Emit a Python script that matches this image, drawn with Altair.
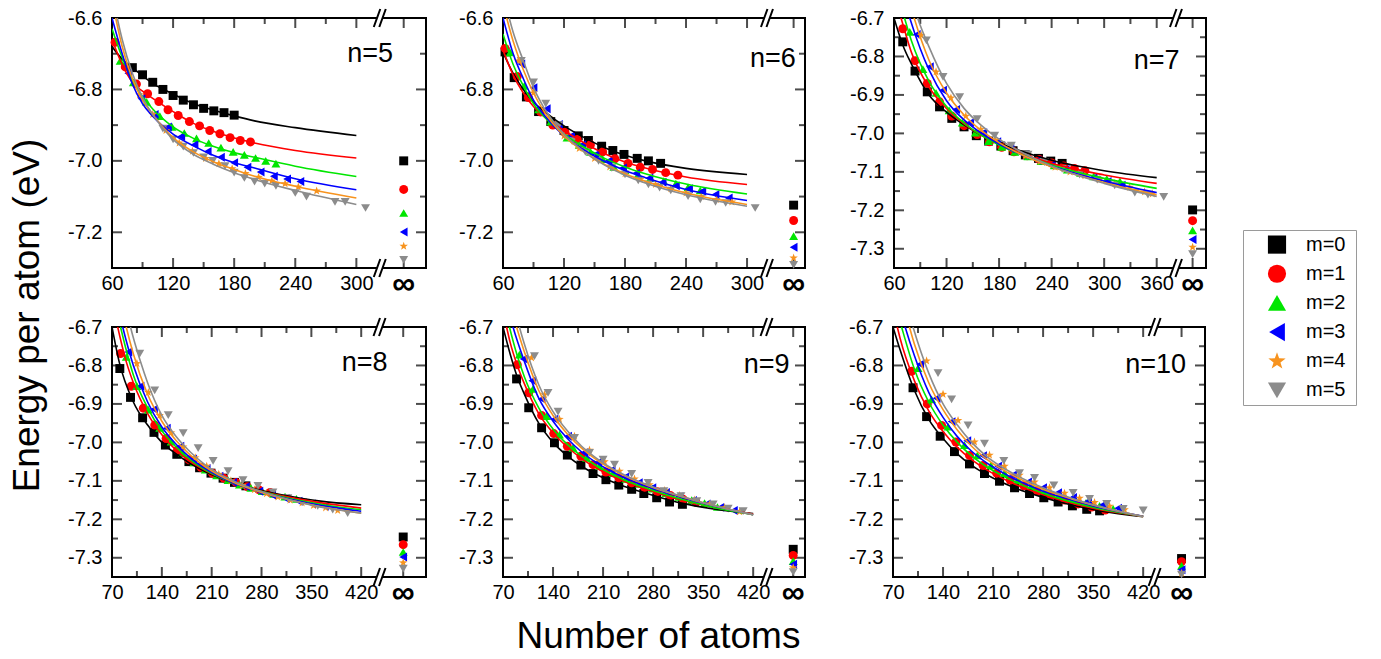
import altair as alt
import pandas as pd

FONT = "Liberation Sans"
M_LABELS = ["m=0", "m=1", "m=2", "m=3", "m=4", "m=5"]
COLORS = ["#000000", "#ff0000", "#00e600", "#0000ff", "#f7931e", "#8c8c8c"]
STAR = ("M0,-1L0.235,-0.324L0.951,-0.309L0.38,0.124L0.588,0.809L0,0.4"
        "L-0.588,0.809L-0.38,0.124L-0.951,-0.309L-0.235,-0.324Z")
SHAPES = ["square", "circle", "triangle-up", "triangle-left", STAR, "triangle-down"]
GAP_PATH = "M-0.28,-0.25L0.28,-0.25L0.28,0.25L-0.28,0.25Z"
SLASH_PATH = "M-0.6,0.9L0.05,-0.9M-0.05,0.9L0.6,-0.9"

# ---------------- n = 5 ----------------
N5_CURVE_X = [60, 70, 80, 90, 100, 120, 140, 160, 180, 200, 240, 300]
N5_CURVES = [
    (N5_CURVE_X, [-6.68, -6.715, -6.739, -6.762, -6.783, -6.813, -6.840, -6.858, -6.874, -6.888, -6.907, -6.929]),
    (N5_CURVE_X, [-6.66, -6.73, -6.78, -6.805, -6.825, -6.862, -6.895, -6.918, -6.936, -6.95, -6.971, -6.992]),
    (N5_CURVE_X, [-6.63, -6.71, -6.775, -6.82, -6.855, -6.905, -6.937, -6.96, -6.977, -6.99, -7.015, -7.044]),
    (N5_CURVE_X, [-6.60, -6.70, -6.785, -6.84, -6.875, -6.925, -6.958, -6.985, -7.005, -7.02, -7.05, -7.081]),
    (N5_CURVE_X, [-6.55, -6.68, -6.77, -6.83, -6.87, -6.935, -6.975, -7.003, -7.024, -7.043, -7.071, -7.104]),
    (N5_CURVE_X, [-6.53, -6.66, -6.755, -6.823, -6.87, -6.94, -6.982, -7.01, -7.033, -7.052, -7.083, -7.122]),
]
N5_MARKS = [
    ([80, 90, 100, 110, 120, 130, 140, 150, 160, 170, 180],
     [-6.739, -6.759, -6.780, -6.800, -6.817, -6.830, -6.843, -6.853, -6.860, -6.865, -6.872]),
    ([63, 73, 84, 95, 106, 115, 125, 136, 146, 156, 166, 176, 186, 196],
     [-6.668, -6.737, -6.785, -6.812, -6.834, -6.857, -6.873, -6.890, -6.902, -6.915, -6.924, -6.935, -6.943, -6.947]),
    ([68, 81, 94, 107, 119, 131, 143, 155, 167, 179, 190, 201, 211, 221],
     [-6.72, -6.78, -6.835, -6.875, -6.905, -6.922, -6.937, -6.95, -6.963, -6.975, -6.983, -6.992, -7.0, -7.008]),
    ([76, 89, 102, 115, 128, 141, 154, 167, 180, 193, 206, 219, 232, 245],
     [-6.755, -6.826, -6.870, -6.905, -6.932, -6.955, -6.974, -6.99, -7.005, -7.018, -7.031, -7.043, -7.051, -7.058]),
    ([87, 100, 113, 126, 139, 152, 165, 178, 191, 204, 217, 230, 243, 261],
     [-6.815, -6.87, -6.915, -6.95, -6.973, -6.993, -7.008, -7.022, -7.035, -7.046, -7.056, -7.064, -7.073, -7.084]),
    ([110, 120, 130, 140, 150, 159, 171, 180, 190, 200, 210, 221, 240, 251, 279, 289, 309],
     [-6.91, -6.94, -6.96, -6.978, -6.99, -7.0, -7.015, -7.033, -7.048, -7.058, -7.064, -7.07, -7.09, -7.1, -7.115, -7.115, -7.132]),
]
N5_INF = [-7.000, -7.080, -7.146, -7.199, -7.239, -7.277]

# ---------------- n = 6 ----------------
N6_CURVE_X = [60, 70, 80, 90, 100, 120, 140, 160, 180, 200, 240, 300]
N6_CURVES = [
    (N6_CURVE_X, [-6.696, -6.755, -6.8, -6.835, -6.86, -6.902, -6.935, -6.963, -6.984, -7.0, -7.021, -7.038]),
    (N6_CURVE_X, [-6.69, -6.76, -6.81, -6.848, -6.875, -6.915, -6.95, -6.98, -7.003, -7.02, -7.045, -7.066]),
    (N6_CURVE_X, [-6.645, -6.73, -6.79, -6.84, -6.875, -6.925, -6.962, -6.993, -7.017, -7.036, -7.065, -7.093]),
    (N6_CURVE_X, [-6.60, -6.70, -6.77, -6.83, -6.87, -6.93, -6.97, -7.002, -7.027, -7.047, -7.08, -7.111]),
    (N6_CURVE_X, [-6.56, -6.665, -6.745, -6.81, -6.86, -6.93, -6.975, -7.01, -7.036, -7.057, -7.09, -7.122]),
    (N6_CURVE_X, [-6.53, -6.64, -6.72, -6.795, -6.85, -6.925, -6.975, -7.012, -7.04, -7.062, -7.095, -7.127]),
]
N6_MARKS = [
    ([62, 71, 83, 95, 107, 120, 134, 144, 157, 168, 179, 192, 203, 215],
     [-6.695, -6.767, -6.821, -6.862, -6.89, -6.915, -6.93, -6.943, -6.959, -6.971, -6.982, -6.993, -7.0, -7.007]),
    ([62, 74, 85, 97, 109, 121, 133, 146, 158, 170, 183, 195, 207, 220, 232],
     [-6.685, -6.764, -6.823, -6.863, -6.9, -6.92, -6.94, -6.955, -6.975, -6.994, -7.007, -7.018, -7.024, -7.033, -7.04]),
    ([67, 81, 95, 107, 123, 135, 146, 158, 169, 180, 193, 205, 218, 230, 242, 254],
     [-6.696, -6.79, -6.856, -6.89, -6.935, -6.955, -6.975, -6.995, -7.017, -7.027, -7.038, -7.048, -7.057, -7.064, -7.074, -7.083]),
    ([78, 90, 103, 115, 127, 138, 151, 164, 178, 191, 204, 217, 230, 243, 256, 269, 282],
     [-6.729, -6.795, -6.854, -6.898, -6.93, -6.955, -6.982, -7.0, -7.02, -7.035, -7.048, -7.06, -7.07, -7.078, -7.085, -7.094, -7.104]),
    ([75, 90, 105, 120, 135, 150, 165, 180, 195, 210, 225, 240, 255, 270, 285],
     [-6.72, -6.81, -6.88, -6.93, -6.965, -6.993, -7.017, -7.036, -7.052, -7.066, -7.078, -7.09, -7.1, -7.108, -7.115]),
    ([78, 90, 102, 115, 128, 141, 154, 167, 180, 193, 203, 214, 225, 242, 254, 269, 279, 308],
     [-6.72, -6.78, -6.84, -6.9, -6.945, -6.975, -7.0, -7.02, -7.038, -7.055, -7.066, -7.075, -7.083, -7.099, -7.108, -7.115, -7.118, -7.132]),
]
N6_INF = [-7.124, -7.167, -7.211, -7.242, -7.272, -7.291]

# ---------------- n = 7 ----------------
N7_CURVES = [
    ([60, 70, 80, 100, 120, 140, 160, 180, 200, 240, 300, 360],
     [-6.70, -6.77, -6.82, -6.9, -6.945, -6.978, -7.005, -7.025, -7.042, -7.07, -7.097, -7.115]),
    ([60, 68, 80, 100, 120, 140, 160, 180, 200, 240, 300, 360],
     [-6.64, -6.70, -6.79, -6.88, -6.935, -6.975, -7.005, -7.028, -7.047, -7.078, -7.108, -7.13]),
    ([60, 72, 80, 100, 120, 140, 160, 180, 200, 240, 300, 360],
     [-6.60, -6.70, -6.76, -6.865, -6.93, -6.973, -7.005, -7.03, -7.05, -7.082, -7.117, -7.143]),
    ([60, 78, 90, 100, 120, 140, 160, 180, 200, 240, 300, 360],
     [-6.55, -6.70, -6.78, -6.835, -6.915, -6.965, -7.0, -7.028, -7.05, -7.085, -7.124, -7.154]),
    ([60, 83, 100, 120, 140, 160, 180, 200, 240, 300, 360],
     [-6.50, -6.70, -6.81, -6.895, -6.952, -6.993, -7.024, -7.049, -7.087, -7.128, -7.16]),
    ([60, 87, 100, 120, 140, 160, 180, 200, 240, 300, 360],
     [-6.45, -6.70, -6.775, -6.87, -6.935, -6.98, -7.015, -7.042, -7.085, -7.13, -7.164]),
]
N7_MARKS = [
    ([70, 84, 98, 112, 126, 140, 154, 168, 182, 196, 210, 225, 239, 252],
     [-6.762, -6.838, -6.892, -6.931, -6.961, -6.983, -7.006, -7.02, -7.033, -7.045, -7.056, -7.065, -7.072, -7.078]),
    ([70, 84, 98, 112, 126, 140, 155, 169, 183, 197, 212, 226, 240, 254, 266, 278],
     [-6.728, -6.811, -6.870, -6.918, -6.955, -6.98, -7.003, -7.022, -7.036, -7.048, -7.058, -7.068, -7.077, -7.085, -7.091, -7.097]),
    ([78, 93, 108, 123, 138, 153, 168, 183, 198, 213, 228, 243, 258, 273, 288, 303, 318],
     [-6.736, -6.833, -6.895, -6.94, -6.972, -6.998, -7.02, -7.035, -7.048, -7.06, -7.072, -7.083, -7.094, -7.103, -7.112, -7.118, -7.125]),
    ([86, 101, 116, 131, 147, 162, 178, 193, 209, 224, 240, 256, 272, 288, 304, 320],
     [-6.743, -6.827, -6.888, -6.938, -6.972, -6.998, -7.022, -7.04, -7.056, -7.07, -7.082, -7.094, -7.105, -7.115, -7.125, -7.135]),
    ([91, 108, 125, 142, 159, 176, 193, 210, 227, 244, 261, 278, 295, 312, 329, 346, 355],
     [-6.745, -6.84, -6.908, -6.955, -6.99, -7.018, -7.04, -7.058, -7.073, -7.088, -7.1, -7.11, -7.12, -7.13, -7.14, -7.152, -7.157]),
    ([97, 116, 135, 155, 175, 194, 213, 232, 252, 272, 292, 312, 335, 350, 368],
     [-6.758, -6.853, -6.906, -6.963, -7.006, -7.032, -7.055, -7.075, -7.092, -7.107, -7.12, -7.135, -7.154, -7.159, -7.165]),
]
N7_INF = [-7.199, -7.227, -7.252, -7.276, -7.296, -7.314]

# ---------------- n = 8 ----------------
N8_CURVES = [
    ([70, 80, 100, 120, 140, 160, 180, 200, 240, 280, 320, 360, 420],
     [-6.70, -6.79, -6.895, -6.955, -7.0, -7.03, -7.055, -7.075, -7.105, -7.125, -7.14, -7.152, -7.162]),
    ([70, 78, 90, 100, 120, 140, 160, 180, 200, 240, 280, 320, 360, 420],
     [-6.63, -6.70, -6.79, -6.845, -6.925, -6.98, -7.02, -7.05, -7.072, -7.105, -7.127, -7.143, -7.156, -7.171]),
    ([70, 82, 90, 100, 120, 140, 160, 180, 200, 240, 280, 320, 360, 420],
     [-6.60, -6.70, -6.76, -6.825, -6.91, -6.97, -7.012, -7.045, -7.07, -7.105, -7.128, -7.146, -7.16, -7.175]),
    ([70, 85, 100, 120, 140, 160, 180, 200, 240, 280, 320, 360, 420],
     [-6.58, -6.70, -6.8, -6.895, -6.96, -7.005, -7.04, -7.067, -7.105, -7.13, -7.148, -7.163, -7.179]),
    ([70, 90, 100, 120, 140, 160, 180, 200, 240, 280, 320, 360, 420],
     [-6.52, -6.70, -6.77, -6.875, -6.945, -6.995, -7.033, -7.062, -7.103, -7.13, -7.15, -7.166, -7.184]),
    ([70, 96, 110, 120, 140, 160, 180, 200, 240, 280, 320, 360, 420],
     [-6.45, -6.70, -6.79, -6.845, -6.93, -6.985, -7.025, -7.057, -7.1, -7.128, -7.15, -7.167, -7.184]),
]
N8_MARKS = [
    ([81, 96, 113, 129, 145, 161, 178, 193, 209, 226, 242, 258],
     [-6.808, -6.883, -6.936, -6.974, -7.007, -7.031, -7.05, -7.066, -7.08, -7.093, -7.104, -7.113]),
    ([82, 97, 114, 130, 146, 162, 178, 195, 211, 227, 244, 260, 276, 292],
     [-6.769, -6.854, -6.911, -6.955, -6.99, -7.02, -7.045, -7.065, -7.08, -7.093, -7.104, -7.115, -7.123, -7.13]),
    ([90, 105, 121, 137, 153, 169, 185, 201, 217, 233, 249, 265, 281, 297, 313, 329],
     [-6.778, -6.854, -6.915, -6.962, -6.998, -7.028, -7.052, -7.071, -7.086, -7.098, -7.11, -7.118, -7.127, -7.134, -7.141, -7.147]),
    ([93, 110, 129, 147, 166, 184, 203, 221, 240, 258, 277, 295, 314, 332, 351, 369],
     [-6.765, -6.854, -6.914, -6.963, -7.01, -7.043, -7.068, -7.088, -7.104, -7.115, -7.127, -7.137, -7.146, -7.153, -7.16, -7.166]),
    ([105, 121, 137, 153, 170, 187, 203, 220, 237, 253, 270, 287, 303, 320, 337, 353, 370, 387],
     [-6.795, -6.87, -6.93, -6.975, -7.012, -7.04, -7.062, -7.083, -7.1, -7.112, -7.123, -7.133, -7.142, -7.15, -7.157, -7.164, -7.17, -7.177]),
    ([109, 130, 149, 170, 191, 212, 233, 254, 275, 296, 317, 338, 359, 380, 401],
     [-6.769, -6.865, -6.929, -6.976, -7.015, -7.048, -7.075, -7.098, -7.113, -7.13, -7.145, -7.155, -7.165, -7.175, -7.184]),
]
N8_INF = [-7.246, -7.266, -7.285, -7.298, -7.313, -7.328]

# ---------------- n = 9 ----------------
N9_CURVES = [
    ([70, 80, 90, 100, 120, 140, 160, 180, 200, 240, 280, 320, 360, 420],
     [-6.70, -6.77, -6.83, -6.875, -6.95, -7.0, -7.035, -7.062, -7.083, -7.115, -7.138, -7.158, -7.172, -7.185]),
    ([70, 75, 80, 90, 100, 120, 140, 160, 180, 200, 240, 280, 320, 360, 420],
     [-6.66, -6.70, -6.74, -6.8, -6.848, -6.925, -6.975, -7.012, -7.042, -7.066, -7.102, -7.128, -7.15, -7.167, -7.186]),
    ([70, 79, 90, 100, 120, 140, 160, 180, 200, 240, 280, 320, 360, 420],
     [-6.63, -6.70, -6.775, -6.83, -6.91, -6.965, -7.005, -7.036, -7.06, -7.098, -7.125, -7.148, -7.167, -7.188]),
    ([70, 84, 100, 120, 140, 160, 180, 200, 240, 280, 320, 360, 420],
     [-6.60, -6.70, -6.79, -6.885, -6.945, -6.99, -7.025, -7.052, -7.092, -7.12, -7.143, -7.163, -7.188]),
    ([70, 89, 100, 120, 140, 160, 180, 200, 240, 280, 320, 360, 420],
     [-6.55, -6.70, -6.765, -6.865, -6.93, -6.978, -7.015, -7.044, -7.087, -7.117, -7.141, -7.162, -7.188]),
    ([70, 93, 100, 120, 140, 160, 180, 200, 240, 280, 320, 360, 420],
     [-6.50, -6.70, -6.745, -6.85, -6.92, -6.97, -7.01, -7.04, -7.085, -7.116, -7.14, -7.162, -7.188]),
]
N9_MARKS = [
    ([89, 106, 124, 142, 160, 179, 196, 214, 232, 250, 267, 285, 303, 321],
     [-6.835, -6.91, -6.962, -7.001, -7.033, -7.059, -7.081, -7.097, -7.111, -7.122, -7.133, -7.144, -7.155, -7.161]),
    ([90, 106, 124, 141, 160, 179, 196, 214, 232, 250, 268, 286, 304, 322, 340],
     [-6.798, -6.871, -6.93, -6.977, -7.01, -7.036, -7.058, -7.077, -7.092, -7.105, -7.117, -7.128, -7.138, -7.148, -7.156]),
    ([93, 112, 131, 149, 168, 187, 205, 224, 242, 261, 279, 298, 316, 334, 352, 370],
     [-6.772, -6.861, -6.932, -6.98, -7.014, -7.04, -7.062, -7.08, -7.095, -7.108, -7.12, -7.132, -7.142, -7.15, -7.158, -7.168]),
    ([99, 111, 124, 142, 161, 184, 203, 222, 241, 260, 279, 298, 317, 336, 355, 374, 393],
     [-6.783, -6.84, -6.887, -6.94, -6.984, -7.026, -7.052, -7.072, -7.09, -7.105, -7.118, -7.13, -7.141, -7.151, -7.16, -7.169, -7.177]),
    ([110, 128, 149, 170, 191, 212, 233, 254, 275, 296, 317, 338, 359, 380, 401],
     [-6.78, -6.876, -6.94, -6.984, -7.02, -7.05, -7.075, -7.095, -7.11, -7.125, -7.138, -7.15, -7.16, -7.17, -7.18]),
    ([114, 133, 147, 170, 191, 210, 226, 250, 273, 295, 319, 341, 364, 385, 406],
     [-6.776, -6.871, -6.92, -6.988, -7.027, -7.045, -7.058, -7.082, -7.105, -7.127, -7.14, -7.153, -7.161, -7.172, -7.179]),
]
N9_INF = [-7.278, -7.294, -7.309, -7.317, -7.326, -7.337]

# ---------------- n = 10 ----------------
N10_CURVES = [
    ([70, 80, 100, 120, 140, 160, 180, 200, 240, 280, 320, 360, 420],
     [-6.70, -6.76, -6.865, -6.94, -6.99, -7.03, -7.06, -7.083, -7.118, -7.143, -7.163, -7.178, -7.193]),
    ([70, 76, 80, 100, 120, 140, 160, 180, 200, 240, 280, 320, 360, 420],
     [-6.66, -6.70, -6.73, -6.84, -6.918, -6.972, -7.013, -7.045, -7.07, -7.108, -7.136, -7.158, -7.175, -7.192]),
    ([70, 82, 100, 120, 140, 160, 180, 200, 240, 280, 320, 360, 420],
     [-6.62, -6.70, -6.81, -6.895, -6.955, -7.0, -7.035, -7.062, -7.102, -7.132, -7.155, -7.173, -7.192]),
    ([70, 87, 100, 120, 140, 160, 180, 200, 240, 280, 320, 360, 420],
     [-6.58, -6.70, -6.775, -6.87, -6.935, -6.985, -7.023, -7.052, -7.095, -7.127, -7.15, -7.17, -7.192]),
    ([70, 93, 100, 120, 140, 160, 180, 200, 240, 280, 320, 360, 420],
     [-6.54, -6.70, -6.745, -6.845, -6.915, -6.968, -7.01, -7.042, -7.088, -7.122, -7.147, -7.168, -7.193]),
    ([70, 98, 120, 140, 160, 180, 200, 240, 280, 320, 360, 420],
     [-6.50, -6.70, -6.82, -6.9, -6.955, -7.0, -7.035, -7.083, -7.118, -7.145, -7.167, -7.193]),
]
N10_MARKS = [
    ([98, 117, 136, 156, 177, 198, 219, 240, 261, 281, 301, 321, 341, 359],
     [-6.858, -6.933, -6.984, -7.024, -7.056, -7.081, -7.101, -7.118, -7.133, -7.144, -7.155, -7.165, -7.174, -7.178]),
    ([96, 118, 138, 158, 177, 196, 215, 234, 253, 272, 291, 310, 329, 348, 367],
     [-6.815, -6.9, -6.956, -6.999, -7.034, -7.06, -7.08, -7.098, -7.113, -7.126, -7.138, -7.15, -7.16, -7.168, -7.176]),
    ([105, 124, 147, 170, 188, 207, 226, 245, 264, 283, 302, 321, 340, 359, 378],
     [-6.807, -6.888, -6.959, -7.007, -7.034, -7.06, -7.08, -7.097, -7.111, -7.124, -7.136, -7.147, -7.157, -7.165, -7.173]),
    ([108, 131, 152, 174, 196, 217, 238, 259, 280, 301, 322, 343, 364, 385],
     [-6.797, -6.885, -6.946, -6.996, -7.035, -7.062, -7.085, -7.103, -7.118, -7.131, -7.143, -7.153, -7.162, -7.171]),
    ([117, 140, 161, 184, 205, 226, 247, 268, 289, 310, 331, 352, 373, 394],
     [-6.788, -6.875, -6.943, -6.999, -7.033, -7.062, -7.085, -7.103, -7.118, -7.132, -7.145, -7.156, -7.166, -7.175]),
    ([133, 152, 175, 198, 225, 247, 268, 295, 322, 345, 369, 392, 420],
     [-6.82, -6.888, -6.956, -7.003, -7.048, -7.08, -7.092, -7.112, -7.131, -7.147, -7.16, -7.173, -7.177]),
]
N10_INF = [-7.302, -7.31, -7.321, -7.331, -7.34, -7.344]

# axis ticks / labels
TOP_X_LABELS = [60, 120, 180, 240, 300]
TOP_X_MINOR = [90, 150, 210, 270]
N7_X_LABELS = [60, 120, 180, 240, 300, 360]
N7_X_MINOR = [90, 150, 210, 270, 330]
BOT_X_LABELS = [70, 140, 210, 280, 350, 420]
BOT_X_MINOR = [105, 175, 245, 315, 385]
Y1_LABELS = [-6.6, -6.8, -7.0, -7.2]
Y1_MINOR = [-6.7, -6.9, -7.1]
Y2_LABELS = [-6.7, -6.8, -6.9, -7.0, -7.1, -7.2, -7.3]
Y2_MINOR = [-6.75, -6.85, -6.95, -7.05, -7.15, -7.25]

PANELS = [
    dict(n=5, xdom=[60, 368.4], ydom=[-7.3, -6.6], xlab=TOP_X_LABELS, xmin=TOP_X_MINOR, ylab=Y1_LABELS, ymin=Y1_MINOR,
         inf=346.5, brk=323, w=314, minext=45, lx=336, ly=-6.70, curves=N5_CURVES, marks=N5_MARKS, infs=N5_INF),
    dict(n=6, xdom=[60, 357], ydom=[-7.3, -6.6], xlab=TOP_X_LABELS, xmin=TOP_X_MINOR, ylab=Y1_LABELS, ymin=Y1_MINOR,
         inf=345.8, brk=319.6, w=302, minext=45, lx=348, ly=-6.716, curves=N6_CURVES, marks=N6_MARKS, infs=N6_INF),
    dict(n=7, xdom=[60, 416.3], ydom=[-7.35, -6.7], xlab=N7_X_LABELS, xmin=N7_X_MINOR, ylab=Y2_LABELS, ymin=Y2_MINOR,
         inf=401, brk=382, w=312, minext=56, lx=386, ly=-6.813, curves=N7_CURVES, marks=N7_MARKS, infs=N7_INF),
    dict(n=8, xdom=[70, 511], ydom=[-7.35, -6.7], xlab=BOT_X_LABELS, xmin=BOT_X_MINOR, ylab=Y2_LABELS, ymin=Y2_MINOR,
         inf=479, brk=445.7, w=314, minext=45, lx=457, ly=-6.794, curves=N8_CURVES, marks=N8_MARKS, infs=N8_INF),
    dict(n=9, xdom=[70, 492.5], ydom=[-7.35, -6.7], xlab=BOT_X_LABELS, xmin=BOT_X_MINOR, ylab=Y2_LABELS, ymin=Y2_MINOR,
         inf=476, brk=438.7, w=302, minext=45, lx=471, ly=-6.799, curves=N9_CURVES, marks=N9_MARKS, infs=N9_INF),
    dict(n=10, xdom=[70, 506.5], ydom=[-7.35, -6.7], xlab=BOT_X_LABELS, xmin=BOT_X_MINOR, ylab=Y2_LABELS, ymin=Y2_MINOR,
         inf=473.7, brk=436, w=312, minext=56, lx=480, ly=-6.80, curves=N10_CURVES, marks=N10_MARKS, infs=N10_INF),
]

COLOR_SCALE = alt.Scale(domain=M_LABELS, range=COLORS)
SHAPE_SCALE = alt.Scale(domain=M_LABELS, range=SHAPES)


def build_panel(c):
    xs = alt.Scale(domain=c["xdom"], nice=False, zero=False)
    ys = alt.Scale(domain=c["ydom"], nice=False, zero=False)
    xaxis = alt.Axis(values=c["xlab"], format="d", grid=False, ticks=False, domain=False, labelPadding=5,
                     labelFontSize=20, labelFont=FONT, labelColor="black", title=None,
                     labelFlush=False, labelOverlap=False)
    yaxis = alt.Axis(values=c["ylab"], format=".1f", labelExpr="replace(datum.label, '\u2212', '-')",
                     grid=False, ticks=False, domain=False, labelPadding=10, labelFontSize=20,
                     labelFont=FONT, labelColor="black", title=None, minExtent=c["minext"],
                     labelFlush=False, labelOverlap=False)

    def X():
        return alt.X("x:Q", scale=xs, axis=xaxis)

    def Y():
        return alt.Y("y:Q", scale=ys, axis=yaxis)

    crows = [{"x": x, "y": y, "m": M_LABELS[i]}
             for i, (xx, yy) in enumerate(c["curves"]) for x, y in zip(xx, yy)]
    mrows = [{"x": x, "y": y, "m": M_LABELS[i]}
             for i, (xx, yy) in enumerate(c["marks"]) for x, y in zip(xx, yy)]
    mrows += [{"x": c["inf"], "y": v, "m": M_LABELS[i]} for i, v in enumerate(c["infs"])]

    tv = []
    for v in c["xlab"] + [c["inf"]]:
        for yy in c["ydom"]:
            tv.append({"x": v, "y": yy, "len": 20})
    for v in c["xmin"]:
        for yy in c["ydom"]:
            tv.append({"x": v, "y": yy, "len": 12})
    th = []
    for v in c["ylab"]:
        for xx in c["xdom"]:
            th.append({"x": xx, "y": v, "len": 20})
    for v in c["ymin"]:
        for xx in c["xdom"]:
            th.append({"x": xx, "y": v, "len": 12})

    ticks_v = alt.Chart(pd.DataFrame(tv)).mark_tick(orient="vertical", clip=True, thickness=2, color="black").encode(
        x=X(), y=Y(), size=alt.Size("len:Q", scale=None))
    ticks_h = alt.Chart(pd.DataFrame(th)).mark_tick(orient="horizontal", clip=True, thickness=2, color="black").encode(
        x=X(), y=Y(), size=alt.Size("len:Q", scale=None))

    pts = alt.Chart(pd.DataFrame(mrows)).mark_point(filled=True, size=80, opacity=1, strokeWidth=0).encode(
        x=X(), y=Y(),
        color=alt.Color("m:N", scale=COLOR_SCALE, legend=None),
        shape=alt.Shape("m:N", scale=SHAPE_SCALE, legend=None))

    lines = alt.Chart(pd.DataFrame(crows)).mark_line(clip=True, strokeWidth=1.6, interpolate="monotone").encode(
        x=X(), y=Y(),
        stroke=alt.Stroke("m:N", scale=COLOR_SCALE, legend=None),
        detail="m:N")

    bdf = pd.DataFrame({"x": [c["brk"], c["brk"]], "y": c["ydom"]})
    gap = alt.Chart(bdf).mark_point(shape=GAP_PATH, filled=True, color="white", size=400, opacity=1,
                                    strokeWidth=0).encode(x=X(), y=Y())
    slash = alt.Chart(bdf).mark_point(shape=SLASH_PATH, filled=False, color="black", size=400, opacity=1,
                                      strokeWidth=2).encode(x=X(), y=Y())

    inf_txt = alt.Chart(pd.DataFrame({"x": [c["inf"]], "y": [c["ydom"][0]], "t": ["\u221e"]})).mark_text(
        fontSize=32, fontWeight="bold", dy=16, baseline="middle", font=FONT, color="black").encode(
        x=X(), y=Y(), text="t:N")
    nlab = alt.Chart(pd.DataFrame({"x": [c["lx"]], "y": [c["ly"]], "t": ["n=%d" % c["n"]]})).mark_text(
        align="right", baseline="middle", fontSize=27, font=FONT, color="black").encode(
        x=X(), y=Y(), text="t:N")

    return alt.layer(ticks_v, ticks_h, pts, lines, gap, slash, inf_txt, nlab).properties(width=c["w"], height=250)


# ---- legend drawn as its own small panel ----
leg_df = pd.DataFrame({"m": M_LABELS})
leg_y = alt.Y("m:N", scale=alt.Scale(type="point", domain=M_LABELS, padding=0.5), axis=None)
leg_sym = alt.Chart(leg_df).mark_point(filled=True, size=330, opacity=1, strokeWidth=0).encode(
    x=alt.value(34), y=leg_y,
    color=alt.Color("m:N", scale=COLOR_SCALE, legend=None),
    shape=alt.Shape("m:N", scale=SHAPE_SCALE, legend=None))
leg_txt = alt.Chart(leg_df).mark_text(align="left", baseline="middle", fontSize=20, font=FONT,
                                      color="black").encode(x=alt.value(63), y=leg_y, text="m:N")
legend_box = alt.layer(leg_sym, leg_txt).properties(
    width=113, height=175, view=alt.ViewBackground(stroke="#9a9a9a", strokeWidth=1))
spacer = alt.Chart(pd.DataFrame({"v": [0]})).mark_point(opacity=0).encode(
    x=alt.value(0), y=alt.value(0)).properties(width=113, height=193, view=alt.ViewBackground(strokeOpacity=0))
legend_col = alt.vconcat(spacer, legend_box, spacing=18)

panels = [build_panel(c) for c in PANELS]
row1 = alt.hconcat(*panels[:3], spacing=30)
row2 = alt.hconcat(*panels[3:], spacing=30)
grid = alt.vconcat(row1, row2, spacing=12,
                   title=alt.TitleParams("Number of atoms", orient="bottom", anchor="middle", fontSize=37,
                                         fontWeight="normal", font=FONT, color="black", offset=9, dx=22))
chart = alt.hconcat(grid, legend_col, spacing=33,
                    title=alt.TitleParams("Energy per atom (eV)", orient="left", anchor="middle",
                                          fontSize=37, fontWeight="normal", font=FONT, color="black",
                                          offset=19, dx=14)
                    ).configure_view(stroke="black", strokeWidth=2).properties(
    background="white", padding={"left": 8, "right": 5, "top": 4, "bottom": 0})

chart.save("out.html", embed_options={"renderer": "svg", "actions": False})
